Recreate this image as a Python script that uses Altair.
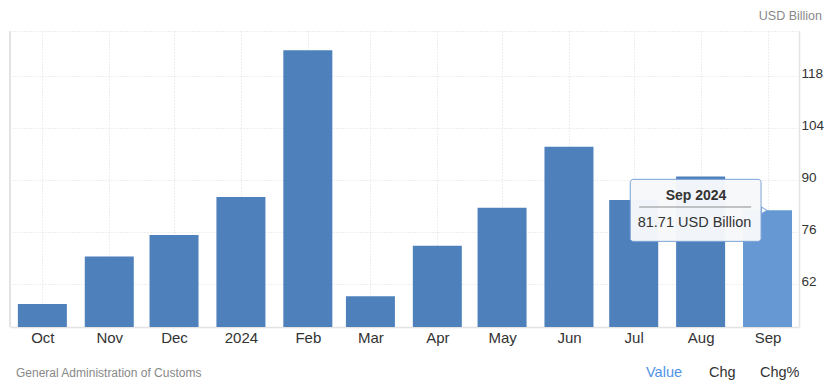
import altair as alt
import pandas as pd

# ---- data ----
months = ["2023-10-01", "2023-11-01", "2023-12-01", "2024-01-01", "2024-02-01", "2024-03-01",
          "2024-04-01", "2024-05-01", "2024-06-01", "2024-07-01", "2024-08-01", "2024-09-01"]
values = [56.5, 69.3, 75.1, 85.3, 124.8, 58.6, 72.2, 82.4, 98.8, 84.5, 90.8, 81.71]
y_ticks = [62, 76, 90, 104, 118]
unit = "USD Billion"
source = "General Administration of Customs"
footer_tabs = ["Value", "Chg", "Chg%"]

FONT = "Liberation Sans"
W, H = 789, 296
Y_MIN, Y_MAX = 50.3, 130.0

df = pd.DataFrame({"date": pd.to_datetime(months), "value": values})
df["hover"] = df["date"] == df["date"].max()

# tooltip annotation anchored on the last bar
last = df.iloc[[-1]].copy()
day = pd.Timedelta(days=1)
last["box_l"] = last["date"] - 63.6 * day
last["box_r"] = last["date"] - 3.0 * day
last["box_t"] = last["value"] + 8.35
last["box_b"] = last["value"] - 8.35
last["sep_l"] = last["date"] - 59.5 * day
last["sep_r"] = last["date"] - 7.6 * day
last["sep_y"] = last["value"] + 0.9
last["tri_x"] = last["date"] - 1.5 * day
last["title"] = last["date"].dt.strftime("%b %Y")
last["label"] = last["value"].map(lambda v: f"{v:.2f} {unit}")

x_scale = alt.Scale(type="utc", padding=0,
                    domain=[alt.DateTime(year=2023, month=9, date=16, utc=True),
                            alt.DateTime(year=2024, month=9, date=15, hours=14, utc=True)])
y_scale = alt.Scale(domain=[Y_MIN, Y_MAX], zero=False, nice=False, padding=0)

tick_dates = [alt.DateTime(year=d.year, month=d.month, date=1, utc=True) for d in df["date"]]

x_axis = alt.Axis(
    values=tick_dates,
    labelExpr="utcmonth(datum.value) == 0 ? utcFormat(datum.value, '%Y') : utcFormat(datum.value, '%b')",
    title=None, ticks=False, domain=True, domainColor="#e3e3e3", domainWidth=1.5,
    grid=True, gridColor="#dcdcdc", gridDash=[1, 2], gridWidth=1,
    labelFont=FONT, labelFontSize=15, labelColor="#333333", labelPadding=3,
)
y_axis = alt.Axis(
    values=y_ticks + [Y_MAX], orient="right",
    labelExpr=f"datum.value == {Y_MAX} ? '' : datum.label",
    title=None, ticks=False, domain=True, domainColor="#e3e3e3", domainWidth=1.5,
    grid=True, gridColor="#dcdcdc", gridDash=[1, 2], gridWidth=1,
    labelFont=FONT, labelFontSize=13.5, labelColor="#333333", labelPadding=2,
    labelOffset=-2, labelAlign="left",
)

bars = alt.Chart(df).mark_bar(width=49, clip=True).encode(
    x=alt.X("date:T", scale=x_scale, axis=x_axis),
    y=alt.Y("value:Q", scale=y_scale, axis=y_axis),
    color=alt.condition(alt.datum.hover, alt.value("#6699d4"), alt.value("#4e80bc")),
)

left_edge = alt.Chart(df).mark_rule(color="#e3e3e3", strokeWidth=1.5).encode(
    x=alt.value(0), y=alt.value(0), y2=alt.value(H)
)

base_last = alt.Chart(last)
tri = base_last.mark_point(shape="triangle-right", filled=True, fill="#f7f8fa",
                           stroke="#7aa2d6", strokeWidth=1, size=45, opacity=1).encode(
    x="tri_x:T", y="value:Q")
box = base_last.mark_rect(fill="#f7f8fa", fillOpacity=0.97, stroke="#7aa2d6",
                          strokeWidth=1, cornerRadius=3).encode(
    x="box_l:T", x2="box_r:T", y="box_t:Q", y2="box_b:Q")
sep = base_last.mark_rule(color="#8c8c8c", strokeWidth=1).encode(
    x="sep_l:T", x2="sep_r:T", y="sep_y:Q")
t_title = base_last.mark_text(font=FONT, fontSize=14, fontWeight="bold", color="#333333",
                              dx=-71.5, dy=-14, align="center", baseline="middle").encode(
    x="date:T", y="value:Q", text="title:N")
t_label = base_last.mark_text(font=FONT, fontSize=14.5, color="#333333",
                              dx=-73, dy=12.6, align="center", baseline="middle").encode(
    x="date:T", y="value:Q", text="label:N")

unit_text = alt.Chart(pd.DataFrame({"t": [unit]})).mark_text(
    font=FONT, fontSize=12.5, color="#888888", align="right", baseline="alphabetic").encode(
    x=alt.value(812), y=alt.value(-11), text="t:N")
source_text = alt.Chart(pd.DataFrame({"t": [source]})).mark_text(
    font=FONT, fontSize=12, color="#888888", align="left", baseline="middle").encode(
    x=alt.value(6), y=alt.value(342), text="t:N")

tab_df = pd.DataFrame({"t": footer_tabs, "px": [636, 699, 750],
                       "c": ["#4f93e6", "#333333", "#333333"]})
tabs = alt.Chart(tab_df).mark_text(font=FONT, fontSize=14.5, align="left", baseline="middle").encode(
    x=alt.X("px:Q", scale=None), y=alt.value(342), text="t:N",
    color=alt.Color("c:N", scale=None))

chart = alt.layer(bars, left_edge, tri, box, sep, t_title, t_label, unit_text, source_text, tabs).properties(
    width=W, height=H,
    autosize=alt.AutoSizeParams(type="none"),
    padding={"left": 2, "top": 23, "right": 25, "bottom": 54},
).configure_view(stroke=None)

chart.save("out.html", embed_options={"renderer": "svg", "actions": False})
